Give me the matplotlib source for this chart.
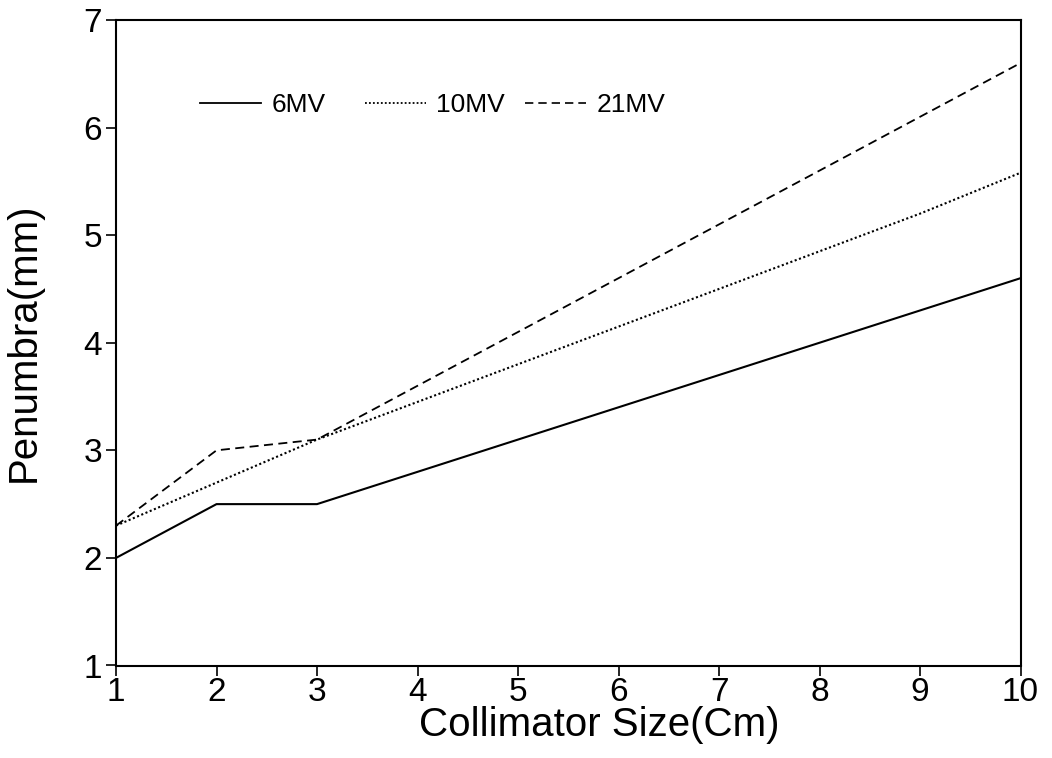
import matplotlib
matplotlib.use("Agg")
import matplotlib.pyplot as plt
from matplotlib.lines import Line2D

plt.rcParams['font.family'] = ['Liberation Sans', 'DejaVu Sans']

collimator = [1, 2, 3, 4, 5, 6, 7, 8, 9, 10]
mv6 = [2.0, 2.5, 2.5, 2.8, 3.1, 3.4, 3.7, 4.0, 4.3, 4.6]
mv10 = [2.3, 2.7, 3.1, 3.45, 3.8, 4.15, 4.5, 4.85, 5.2, 5.58]
mv21 = [2.3, 3.0, 3.1, 3.6, 4.1, 4.6, 5.1, 5.6, 6.1, 6.6]
series_labels = ['6MV', '10MV', '21MV']
xticks = [1, 2, 3, 4, 5, 6, 7, 8, 9, 10]
yticks = [1, 2, 3, 4, 5, 6, 7]

W, H = 1052, 758
fig = plt.figure(figsize=(W / 100, H / 100), dpi=100)
ax = fig.add_axes([116 / W, 1 - 665.5 / H, (1020.5 - 116) / W, (665.5 - 20) / H])

styles = [dict(lw=1.5, ls='-'),
          dict(lw=1.5, ls=(0, (1, 1.2))),
          dict(lw=1.3, ls=(0, (5, 3)))]
lines = []
for ys, lab, st in zip([mv6, mv10, mv21], series_labels, styles):
    ln, = ax.plot(collimator, ys, color='black', label=lab, **st)
    lines.append(ln)

ax.set_xlim(1, 10)
ax.set_ylim(1, 7)
ax.set_xticks(xticks)
ax.set_yticks(yticks)
ax.tick_params(axis='both', direction='out', length=7, width=1.2, labelsize=24)
ax.tick_params(axis='y', pad=3)
ax.tick_params(axis='x', pad=1)
for s in ax.spines.values():
    s.set_linewidth(1.5)

ax.set_xlabel('Collimator Size(Cm)', fontsize=29)
ax.set_ylabel('Penumbra(mm)', fontsize=29)
ax.xaxis.set_label_coords((599 - 116) / 903.5, -0.062)
ax.yaxis.set_label_coords(-0.081, 0.5)

# legend entries placed individually, as in the reference
leg_x = [200, 365, 525]
leg_y = 1 - 105 / H
leg_styles = [dict(lw=1.3, ls='-'), dict(lw=1.3, ls=(0, (1, 1.2))), dict(lw=1.2, ls=(0, (5, 3)))]
for x0, ln, st in zip(leg_x, lines, leg_styles):
    h = Line2D([], [], color='black', **st)
    fig.legend([h], [ln.get_label()], loc='center left', bbox_to_anchor=(x0 / W, leg_y),
               bbox_transform=fig.transFigure, frameon=False, fontsize=19,
               handlelength=2.3, handletextpad=0.4, borderpad=0, borderaxespad=0)

fig.savefig('out.png', dpi=100)
